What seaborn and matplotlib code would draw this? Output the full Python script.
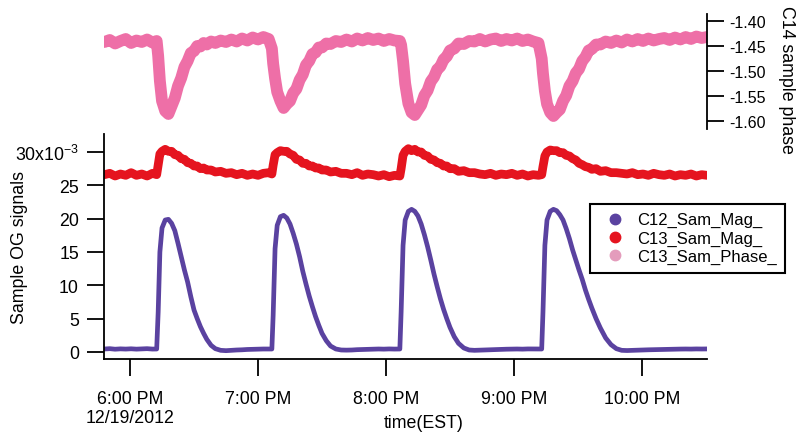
import matplotlib
matplotlib.use("Agg")
import matplotlib.pyplot as plt
from matplotlib.lines import Line2D
import pandas as pd
import seaborn as sns

# time in minutes after 6:00 PM, 12/19/2012
minutes = [
    -12, -9.5, -7, -4.5, -2, 0.5, 3, 5.5, 8, 10.5, 12.5,
    13.2, 14, 15, 16.5, 18, 19.5, 21, 22.5, 24, 25.5, 27, 28.5, 30, 31.5, 33, 34.5, 36, 38, 40, 42.5, 45,
    47.5, 50, 52.5, 55, 57.5, 60, 62.5, 65, 66.5,
    67.1, 68, 69, 70.5, 72, 73.5, 75, 76.5, 78, 79.5, 81, 82.5, 84, 85.5, 87, 88.5, 90, 92, 94, 96.5, 99,
    101.5, 104, 106.5, 109, 111.5, 114, 116.5, 119, 121.5, 124, 126.5,
    127.1, 128, 129, 130.5, 132, 133.5, 135, 136.5, 138, 139.5, 141, 142.5, 144, 145.5, 147, 148.5, 150, 152, 154, 156.5, 159,
    161.5, 164, 166.5, 169, 171.5, 174, 176.5, 179, 181.5, 184, 186.5, 189, 191.5, 193,
    193.6, 194.5, 195.5, 197, 198.5, 200, 201.5, 203, 204.5, 206, 207.5, 209, 210.5, 212, 213.5, 215, 216.5, 218.5, 220.5, 223, 225.5,
    228, 230.5, 233, 235.5, 238, 240.5, 243, 245.5, 248, 250.5, 253, 255.5, 258, 260.5, 263, 265.5, 268, 270.5,
]

# C12_Sam_Mag_ (x10^-3)
c12_mag = [
    0.45, 0.50, 0.42, 0.47, 0.44, 0.48, 0.43, 0.46, 0.50, 0.44, 0.45,
    6.0, 15.0, 18.6, 19.8, 19.9, 19.3, 18.2, 16.3, 14.3, 12.3, 10.5, 8.3, 6.3, 5.0, 3.8, 2.8, 1.9, 1.0, 0.5, 0.25, 0.2,
    0.25, 0.30, 0.33, 0.38, 0.40, 0.42, 0.45, 0.44, 0.45,
    5.5, 15.5, 19.0, 20.3, 20.5, 20.1, 19.2, 17.8, 16.2, 14.3, 12.1, 10.2, 8.4, 6.8, 5.3, 4.0, 2.8, 1.7, 0.9, 0.45, 0.3,
    0.28, 0.30, 0.35, 0.38, 0.40, 0.42, 0.45, 0.43, 0.46, 0.44, 0.45,
    6.0, 16.0, 19.8, 21.1, 21.4, 21.1, 20.4, 19.2, 17.6, 15.8, 13.8, 11.7, 9.8, 8.0, 6.4, 5.0, 3.7, 2.3, 1.3, 0.6, 0.3,
    0.25, 0.28, 0.32, 0.35, 0.38, 0.40, 0.42, 0.44, 0.45, 0.43, 0.46, 0.45, 0.44, 0.45,
    6.0, 16.0, 19.8, 21.1, 21.4, 21.2, 20.6, 19.8, 18.5, 17.0, 15.3, 13.8, 12.3, 10.9, 9.3, 7.9, 6.6, 5.0, 3.6, 2.1, 1.1,
    0.5, 0.25, 0.22, 0.25, 0.28, 0.30, 0.33, 0.35, 0.38, 0.40, 0.42, 0.42, 0.44, 0.45, 0.44, 0.46, 0.45, 0.46,
]

# C13_Sam_Mag_ (x10^-3)
c13_mag = [
    26.6, 26.8, 26.4, 26.7, 26.5, 26.9, 26.5, 26.7, 26.4, 26.8, 26.6,
    28.0, 29.7, 30.1, 30.4, 30.1, 30.1, 29.6, 29.5, 29.0, 28.9, 28.4, 28.3, 27.9, 27.9, 27.5, 27.6, 27.3, 27.3, 27.0, 27.1, 26.8,
    26.9, 26.6, 26.8, 26.5, 26.7, 26.5, 26.8, 26.9, 26.7,
    28.0, 29.6, 29.9, 30.2, 30.1, 30.1, 29.7, 29.5, 28.9, 28.8, 28.3, 28.3, 27.9, 27.9, 27.6, 27.6, 27.3, 27.3, 27.0, 27.1, 26.8,
    26.8, 26.6, 26.9, 26.5, 26.7, 26.6, 26.4, 26.6, 26.3, 26.5, 26.4,
    27.5, 29.5, 30.1, 30.5, 30.2, 30.4, 30.0, 30.0, 29.5, 29.4, 28.9, 28.8, 28.4, 28.3, 27.9, 27.9, 27.5, 27.5, 27.1, 27.2, 26.9,
    26.9, 26.7, 26.6, 26.8, 26.5, 26.7, 26.6, 26.8, 26.5, 26.7, 26.4, 26.6, 26.5, 26.6,
    27.8, 29.4, 30.0, 30.3, 30.2, 30.2, 29.9, 29.9, 29.5, 29.4, 29.0, 28.8, 28.3, 28.1, 27.8, 27.7, 27.4, 27.5, 27.1, 27.2, 26.9,
    26.9, 26.8, 26.7, 26.9, 26.6, 26.7, 26.5, 26.8, 26.6, 26.5, 26.7, 26.4, 26.6, 26.5, 26.7, 26.4, 26.6, 26.5,
]

# C13_Sam_Phase_ (plotted on the "C14 sample phase" axis)
c13_phase = [
    -1.442, -1.438, -1.445, -1.440, -1.436, -1.444, -1.439, -1.442, -1.437, -1.443, -1.440,
    -1.470, -1.520, -1.560, -1.580, -1.586, -1.570, -1.554, -1.530, -1.514, -1.492, -1.480, -1.464, -1.460, -1.450, -1.451, -1.444, -1.447, -1.441, -1.444, -1.439, -1.442,
    -1.437, -1.441, -1.435, -1.439, -1.433, -1.437, -1.432, -1.436, -1.455,
    -1.485, -1.515, -1.542, -1.560, -1.574, -1.566, -1.560, -1.544, -1.536, -1.518, -1.507, -1.488, -1.480, -1.466, -1.463, -1.453, -1.453, -1.445, -1.446, -1.440, -1.442,
    -1.437, -1.441, -1.435, -1.439, -1.434, -1.438, -1.435, -1.440, -1.436, -1.439, -1.440,
    -1.448, -1.480, -1.525, -1.565, -1.583, -1.588, -1.578, -1.568, -1.549, -1.539, -1.521, -1.512, -1.497, -1.491, -1.477, -1.471, -1.459, -1.455, -1.445, -1.446, -1.440,
    -1.441, -1.436, -1.441, -1.437, -1.435, -1.440, -1.436, -1.439, -1.435, -1.440, -1.437, -1.441, -1.444, -1.475,
    -1.505, -1.540, -1.566, -1.583, -1.590, -1.583, -1.577, -1.560, -1.549, -1.530, -1.520, -1.504, -1.496, -1.480, -1.472, -1.459, -1.456, -1.447, -1.447, -1.441, -1.444,
    -1.439, -1.443, -1.437, -1.441, -1.436, -1.440, -1.435, -1.439, -1.436, -1.434, -1.438, -1.433, -1.437, -1.432, -1.436, -1.431, -1.434, -1.432,
]

tick_minutes = [0, 60, 120, 180, 240]
tick_labels = ["6:00 PM\n12/19/2012", "7:00 PM", "8:00 PM", "9:00 PM", "10:00 PM"]
sig_ticks = [0, 5, 10, 15, 20, 25, 30]
sig_labels = ["0", "5", "10", "15", "20", "25", "30x10$^{-3}$"]
phase_ticks = [-1.40, -1.45, -1.50, -1.55, -1.60]
phase_labels = ["-1.40", "-1.45", "-1.50", "-1.55", "-1.60"]
series_names = ["C12_Sam_Mag_", "C13_Sam_Mag_", "C13_Sam_Phase_"]

PURPLE = "#5a42a0"
RED = "#e5141f"
PINK = "#ee6fa7"
legend_colors = [PURPLE, RED, "#e49cbc"]
FS = 12.8

sns.set_theme(style="white")
plt.rcParams["font.family"] = ["Liberation Sans", "DejaVu Sans"]
plt.rcParams["mathtext.fontset"] = "custom"
plt.rcParams["mathtext.rm"] = "Liberation Sans"
plt.rcParams["mathtext.default"] = "regular"
plt.rcParams["font.size"] = FS
plt.rcParams["text.color"] = "black"
plt.rcParams["xtick.color"] = "black"
plt.rcParams["ytick.color"] = "black"
plt.rcParams["xtick.labelcolor"] = "black"
plt.rcParams["ytick.labelcolor"] = "black"

df = pd.DataFrame({"minutes": minutes, "c12": c12_mag, "c13": c13_mag, "phase": c13_phase})

fig = plt.figure(figsize=(7.99, 4.35), dpi=100)
ax_b = fig.add_axes([104 / 799, 1 - 360 / 435, 603 / 799, 225 / 435])
ax_t = fig.add_axes([104 / 799, 1 - 130 / 435, 603 / 799, 115 / 435])
for ax in (ax_b, ax_t):
    ax.set_facecolor("none")

sns.lineplot(data=df, x="minutes", y="c12", ax=ax_b, color=PURPLE, linewidth=3.4, estimator=None)
sns.lineplot(data=df, x="minutes", y="c13", ax=ax_b, color=RED, linewidth=6.3, estimator=None)
sns.lineplot(data=df, x="minutes", y="phase", ax=ax_t, color=PINK, linewidth=8.5, estimator=None)

xlim = (-12.2, 270.5)
# bottom axis
ax_b.set_xlim(*xlim)
ax_b.set_ylim(-1.05, 32.7)
ax_b.set_xticks(tick_minutes)
ax_b.set_xticklabels(tick_labels)
ax_b.set_yticks(sig_ticks)
ax_b.set_yticklabels(sig_labels)
ax_b.set_xlabel("")
ax_b.set_ylabel("")
for s in ("top", "right"):
    ax_b.spines[s].set_visible(False)
for s in ("left", "bottom"):
    ax_b.spines[s].set_color("black")
    ax_b.spines[s].set_linewidth(1.3)
ax_b.tick_params(axis="x", direction="out", length=12, width=1.3, color="black", pad=10, labelsize=FS, bottom=True)
ax_b.tick_params(axis="y", direction="out", length=12, width=1.3, color="black", pad=6, labelsize=FS, left=True)

# top axis
ax_t.set_xlim(*xlim)
ax_t.set_ylim(-1.616, -1.386)
ax_t.set_xticks([])
ax_t.set_xlabel("")
ax_t.set_ylabel("")
ax_t.yaxis.tick_right()
ax_t.set_yticks(phase_ticks)
ax_t.set_yticklabels(phase_labels)
for s in ("top", "left", "bottom"):
    ax_t.spines[s].set_visible(False)
ax_t.spines["right"].set_color("black")
ax_t.spines["right"].set_linewidth(1.3)
ax_t.tick_params(axis="y", direction="out", length=12, width=1.3, color="black", pad=4, labelsize=11.5, right=True, left=False)

fig.text(20 / 799, 1 - 248 / 435, "Sample OG signals", rotation=90, ha="center", va="center", fontsize=FS)
fig.text(786 / 799, 1 - 80 / 435, "C14 sample phase", rotation=270, ha="center", va="center", fontsize=FS)
fig.text(423.5 / 799, 1 - 424 / 435, "time(EST)", ha="center", va="center", fontsize=FS)

handles = [Line2D([], [], marker="o", linestyle="none", color=c, markersize=7.5) for c in legend_colors]
leg = fig.legend(handles, series_names, loc="upper left", bbox_to_anchor=(590 / 799, 1 - 205 / 435),
                 bbox_transform=fig.transFigure, frameon=True, fancybox=False, edgecolor="black",
                 fontsize=12, handlelength=2.0, handletextpad=0.3, borderpad=0.5, labelspacing=0.2,
                 borderaxespad=0)
leg.get_frame().set_linewidth(1.5)
leg.get_frame().set_alpha(1)

fig.savefig("out.png", dpi=100)
